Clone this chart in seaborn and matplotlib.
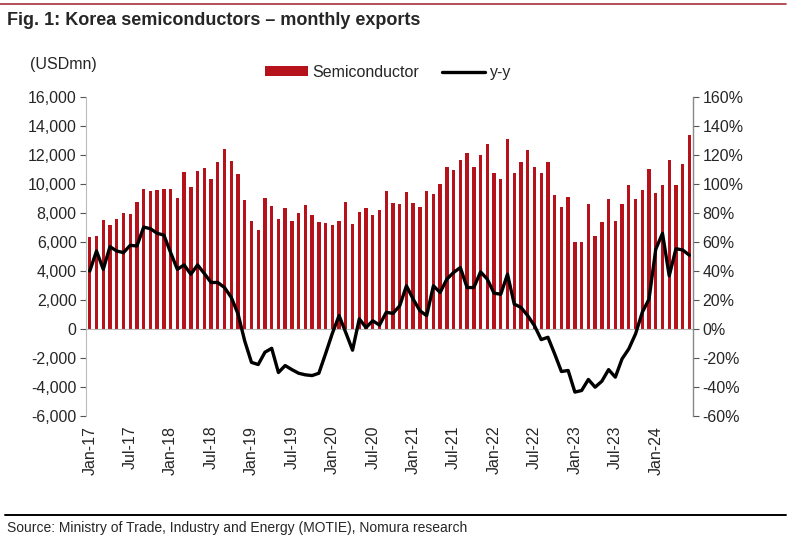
import numpy as np
import pandas as pd
import matplotlib
matplotlib.use("Agg")
import matplotlib.pyplot as plt
from matplotlib.lines import Line2D
from matplotlib.patches import Patch
from matplotlib.ticker import FuncFormatter, FixedLocator
import seaborn as sns

# ---------------- data ----------------
months = list(pd.date_range("2017-01-01", periods=90, freq="MS").strftime("%b-%y"))

semiconductor = [6346, 6415, 7491, 7148, 7560, 8018, 7904, 8751, 9691, 9485, 9576, 9668,
                 9668, 9026, 10813, 9828, 10882, 11134, 10378, 11546, 12440, 11615, 10722, 8866,
                 7423, 6804, 9003, 8453, 7560, 8316, 7469, 7973, 8522, 7858, 7377, 7285,
                 7148, 7423, 8751, 7216, 8087, 8316, 7881, 8179, 9485, 8660, 8591, 9462,
                 8706, 8385, 9485, 9324, 10034, 11180, 10973, 11684, 12165, 11180, 12027, 12784,
                 10790, 10378, 13104, 10790, 11546, 12371, 11203, 10790, 11523, 9233, 8431, 9072,
                 6002, 6002, 8614, 6415, 7377, 8935, 7446, 8591, 9966, 8935, 9576, 11042,
                 9393, 9966, 11684, 9966, 11409, 13402]

yoy = [40, 53.8, 41.2, 56.8, 53.8, 52.7, 57.7, 57.3, 70.3, 69.2, 66, 64.8,
       52.7, 41.2, 44.2, 37.8, 44.2, 38.3, 32.1, 32.1, 28.6, 21.8, 10.5, -8.3,
       -23, -24.5, -16, -13.3, -30, -25.2, -28, -30.5, -31.6, -32.1, -30.5, -17,
       -3, 9.3, -2.5, -14.6, 7, 1, 5.7, 2.7, 11.5, 10.8, 16, 29.8,
       20.6, 12.6, 9.2, 29.8, 25.2, 34.4, 39, 42.4, 28.6, 28.6, 39.4, 34.4,
       24.7, 24, 37.8, 17.2, 14.9, 9.2, 2.3, -7.3, -5.7, -17.2, -29.3, -28.6,
       -43.5, -42.4, -34.8, -40.1, -36, -28, -33.2, -20.6, -13.7, -3.4, 11.5, 20.6,
       55, 66, 36.7, 55.4, 54.5, 50.9]

tick_labels = ["Jan-17", "Jul-17", "Jan-18", "Jul-18", "Jan-19", "Jul-19", "Jan-20",
               "Jul-20", "Jan-21", "Jul-21", "Jan-22", "Jul-22", "Jan-23", "Jul-23", "Jan-24"]
left_ticks = list(range(-6000, 16001, 2000))
right_ticks = list(range(-60, 161, 20))

df = pd.DataFrame({"month": months, "semi": semiconductor, "yoy": yoy})
df["pos"] = np.arange(len(df))

# ---------------- style ----------------
sns.set_style("white")
plt.rcParams["font.family"] = ["Liberation Sans", "DejaVu Sans"]
BAR = "#B5121B"
FS = 11.5

fig = plt.figure(figsize=(8, 5.4), dpi=100)
ax = fig.add_axes([0.108, 0.2296, 0.758, 0.5907])

sns.barplot(data=df, x="pos", y="semi", color=BAR, saturation=1, width=0.5,
            ax=ax, native_scale=True, edgecolor="none")
ax.set_xlim(-0.5, len(df) - 0.5)
ax.set_ylim(-6000, 16000)
ax.yaxis.set_major_locator(FixedLocator(left_ticks))
ax.yaxis.set_major_formatter(FuncFormatter(lambda v, p: f"{int(v):,}"))
ax.tick_params(axis="y", labelsize=FS, length=4, width=0.8, color="#555555", direction="out", pad=3)
ax.set_xlabel("")
ax.set_ylabel("")

# x axis crossing at zero, boundary tick marks every 6 months
for s in ["top", "right"]:
    ax.spines[s].set_visible(False)
ax.spines["left"].set_color("#BBBBBB")
ax.spines["left"].set_linewidth(0.8)
ax.spines["bottom"].set_position(("data", 0))
ax.spines["bottom"].set_color("#BBBBBB")
ax.spines["bottom"].set_linewidth(0.8)
boundaries = [i - 0.5 for i in range(0, len(df) + 1, 6)]
ax.set_xticks(boundaries)
ax.set_xticklabels([])
ax.tick_params(axis="x", length=4, width=0.8, color="#444444", direction="out")

# labels at the bottom of the plot area
sec = ax.secondary_xaxis(0.0)
sec.set_xticks(list(range(0, 85, 6)))
sec.set_xticklabels(tick_labels, rotation=90, fontsize=FS)
sec.tick_params(length=0, pad=7)
sec.spines["bottom"].set_visible(False)

# y-y line on right axis
ax2 = ax.twinx()
sns.lineplot(data=df, x="pos", y="yoy", color="black", linewidth=2.4, ax=ax2)
ax2.set_ylim(-60, 160)
ax2.set_xlim(-0.5, len(df) - 0.5)
ax2.yaxis.set_major_locator(FixedLocator(right_ticks))
ax2.yaxis.set_major_formatter(FuncFormatter(lambda v, p: f"{int(v)}%"))
ax2.tick_params(axis="y", labelsize=FS, length=4, width=0.8, color="#555555", direction="out", pad=3)
ax2.set_ylabel("")
ax2.set_xlabel("")
for s in ["top", "left", "bottom"]:
    ax2.spines[s].set_visible(False)
ax2.spines["right"].set_color("#888888")
ax2.spines["right"].set_linewidth(1.0)

# legend
handles = [Patch(facecolor=BAR, edgecolor="none", label="Semiconductor"),
           Line2D([0], [0], color="black", lw=2.4, label="y-y")]
fig.legend(handles=handles, loc="center", bbox_to_anchor=(0.485, 0.866), ncol=2,
           frameon=False, fontsize=FS, handlelength=2.7, handleheight=0.55,
           handletextpad=0.3, columnspacing=1.4)

# titles & notes
fig.text(0.038, 0.88, "(USDmn)", fontsize=FS, ha="left", va="center")
fig.text(0.009, 0.962, "Fig. 1: Korea semiconductors \u2013 monthly exports",
         fontsize=13, fontweight="bold", ha="left", va="center")
fig.text(0.009, 0.022, "Source: Ministry of Trade, Industry and Energy (MOTIE), Nomura research",
         fontsize=10, ha="left", va="center")
fig.add_artist(Line2D([0.0, 0.982], [0.993, 0.993], color="#A8303A", lw=1.2, transform=fig.transFigure))
fig.add_artist(Line2D([0.006, 0.982], [0.047, 0.047], color="black", lw=1.4, transform=fig.transFigure))

fig.savefig("out.png", dpi=100, facecolor="white")
